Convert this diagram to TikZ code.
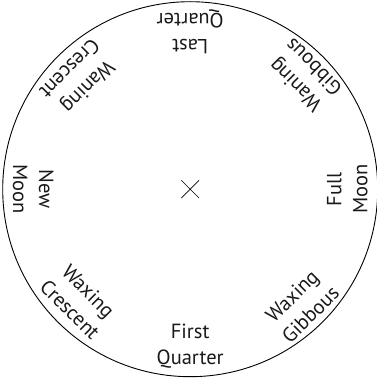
\documentclass[tikz,border=0pt]{standalone}
\usepackage{fontspec}
\setmainfont{PT Sans}
\usetikzlibrary{shapes.misc}
\begin{document}
\begin{tikzpicture}[x=1pt,y=1pt,
  lbl/.style={align=center, font=\fontsize{20.5}{26}\selectfont, inner sep=0pt, text=black!90},
  rimstyle/.style={circle, draw, line width=0.9pt, inner sep=0pt, minimum size=375pt},
  crossstyle/.style={cross out, draw, line width=0.7pt, inner sep=0pt, minimum size=17pt}]
\useasboundingbox (0,0) rectangle (377,381);
\coordinate (c) at (190.2,191.8);
\node[rimstyle] (rim) at (c) {};
\node[crossstyle] (x) at (c) {};
\node[lbl, rotate=0]   (fq)  at ([shift={(-90:157)}]c)  {First\\Quarter};
\node[lbl, rotate=180] (lq)  at ([shift={(90:157)}]c)   {Last\\Quarter};
\node[lbl, rotate=-90] (nm)  at ([shift={(180:157)}]c)  {New\\Moon};
\node[lbl, rotate=90]  (fm)  at ([shift={(0:157)}]c)    {Full\\Moon};
\node[lbl, rotate=-45] (wxc) at ([shift={(-135:157)}]c) {Waxing\\Crescent};
\node[lbl, rotate=45]  (wxg) at ([shift={(111,-116)}]c) {Waxing\\Gibbous};
\node[lbl, rotate=135] (wng) at ([shift={(114,113)}]c)  {Waning\\Gibbous};
\node[lbl, rotate=225] (wnc) at ([shift={(135:157)}]c)  {Waning\\Crescent};
\end{tikzpicture}
\end{document}
